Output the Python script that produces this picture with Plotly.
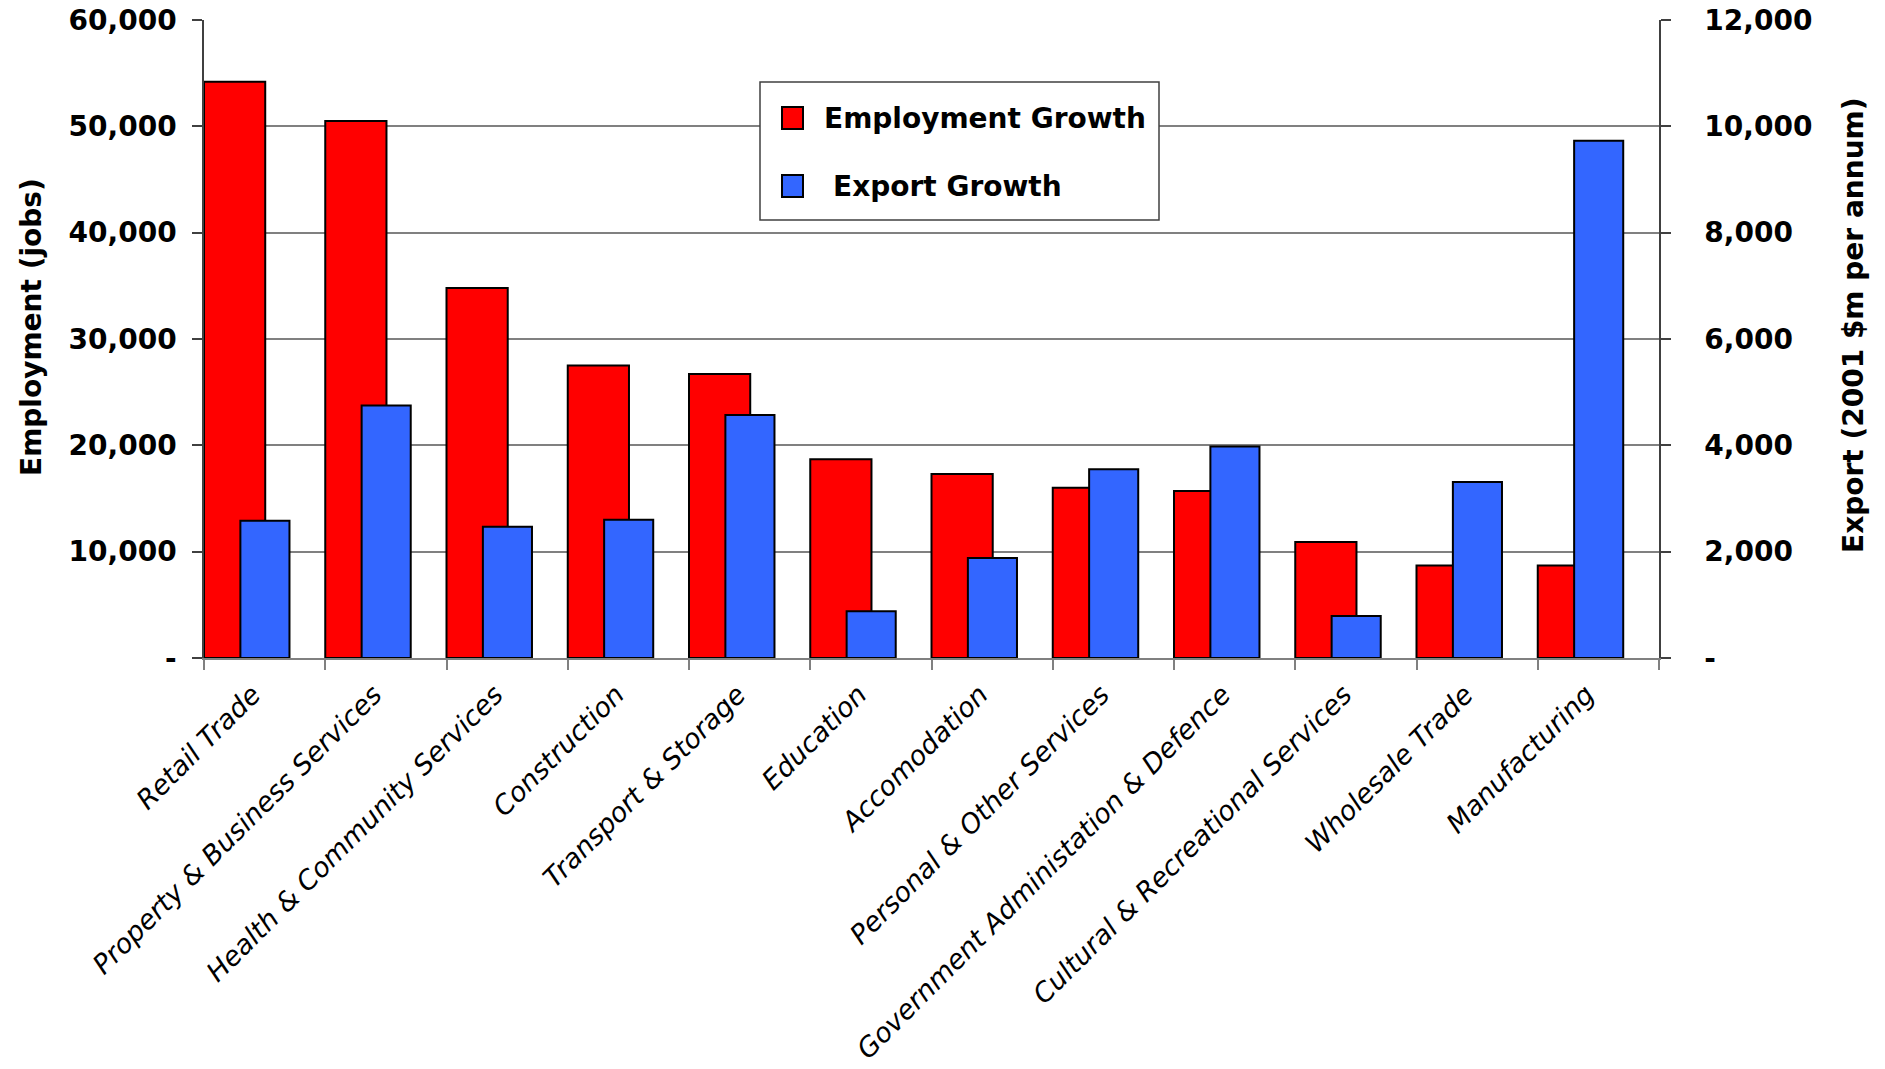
import plotly.graph_objects as go

# Industry categories and projected growth figures
categories = [
    "Retail Trade",
    "Property & Business Services",
    "Health & Community Services",
    "Construction",
    "Transport & Storage",
    "Education",
    "Accomodation",
    "Personal & Other Services",
    "Government Administation & Defence",
    "Cultural & Recreational Services",
    "Wholesale Trade",
    "Manufacturing",
]
employment_growth = [54200, 50500, 34800, 27500, 26700, 18700, 17300, 16000, 15700, 10900, 8700, 8700]
export_growth = [2580, 4750, 2470, 2600, 4570, 880, 1880, 3550, 3980, 790, 3310, 9730]

left_tickvals = [0, 10000, 20000, 30000, 40000, 50000, 60000]
left_ticktext = ["-", "10,000", "20,000", "30,000", "40,000", "50,000", "60,000"]
right_tickvals = [0, 2000, 4000, 6000, 8000, 10000, 12000]
right_ticktext = ["-", "2,000", "4,000", "6,000", "8,000", "10,000", "12,000"]

series_names = ["Employment Growth", " Export Growth"]
series_colors = ["#FF0000", "#3366FF"]

FONT = "DejaVu Sans"
W, H = 1885, 1069
L, R, T, B = 204, 226, 20, 411
PW, PH = W - L - R, H - T - B


def px(x):
    return (x - L) / PW


def py(y):
    return (H - B - y) / PH


fig = go.Figure()
fig.add_trace(go.Bar(
    x=categories, y=employment_growth, name=series_names[0],
    marker=dict(color=series_colors[0], line=dict(color="black", width=2)),
    offset=-0.5, width=0.505, showlegend=False,
))
fig.add_trace(go.Bar(
    x=categories, y=export_growth, name=series_names[1], yaxis="y2",
    marker=dict(color=series_colors[1], line=dict(color="black", width=2)),
    offset=-0.2, width=0.405, showlegend=False,
))

axis_font = dict(family=FONT, size=28, color="black", weight="bold")

fig.update_layout(
    width=W, height=H,
    margin=dict(l=L, r=R, t=T, b=B, pad=0, autoexpand=False),
    paper_bgcolor="white", plot_bgcolor="white",
    barmode="overlay",
    font=dict(family=FONT, color="black"),
    xaxis=dict(
        type="category", tickson="boundaries", ticks="outside", ticklen=10,
        tickcolor="#808080", tickwidth=1.5, showline=True, linecolor="#808080", linewidth=2,
        tickangle=-45, showgrid=False, automargin=False,
        ticklabelstandoff=8, ticklabelshift=-12,
        tickfont=dict(family=FONT, size=27, color="black", style="italic"),
    ),
    yaxis=dict(
        range=[0, 60000], tickvals=left_tickvals, ticktext=left_ticktext,
        showgrid=True, gridcolor="#808080", gridwidth=1.5, zeroline=False,
        showline=True, linecolor="#404040", linewidth=1.5, automargin=False,
        ticks="outside", ticklen=10, tickcolor="#404040", tickwidth=1.5,
        tickfont=axis_font, ticklabelstandoff=10,
    ),
    yaxis2=dict(
        range=[0, 12000], tickvals=right_tickvals, ticktext=right_ticktext,
        overlaying="y", side="right", showgrid=False, zeroline=False,
        showline=True, linecolor="#404040", linewidth=1.5, automargin=False,
        ticks="outside", ticklen=10, tickcolor="#404040", tickwidth=1.5,
        tickfont=axis_font, ticklabelstandoff=28,
    ),
)

# Axis titles
fig.add_annotation(text="Employment (jobs)", xref="paper", yref="paper",
                   x=px(31), y=py(327), xanchor="center", yanchor="middle",
                   textangle=-90, showarrow=False, font=axis_font)
fig.add_annotation(text="Export (2001 $m per annum)", xref="paper", yref="paper",
                   x=px(1853), y=py(325), xanchor="center", yanchor="middle",
                   textangle=-90, showarrow=False, font=axis_font)

# Legend box with colour keys
fig.add_shape(type="rect", xref="paper", yref="paper",
              x0=px(760), x1=px(1159), y0=py(220), y1=py(82),
              line=dict(color="#404040", width=1.5), fillcolor="white", layer="above")
legend_rows = [(118, 782), (186, 782)]
legend_text_x = [822, 831]
for (cy, sx), tx, name, color in zip(legend_rows, legend_text_x, series_names, series_colors):
    fig.add_shape(type="rect", xref="paper", yref="paper",
                  x0=px(sx), x1=px(sx + 21), y0=py(cy + 11), y1=py(cy - 11),
                  line=dict(color="black", width=2), fillcolor=color, layer="above")
    fig.add_annotation(text=name.strip(), xref="paper", yref="paper",
                       x=px(tx), y=py(cy), xanchor="left", yanchor="middle",
                       showarrow=False, font=axis_font)

fig.write_html("out.html")
